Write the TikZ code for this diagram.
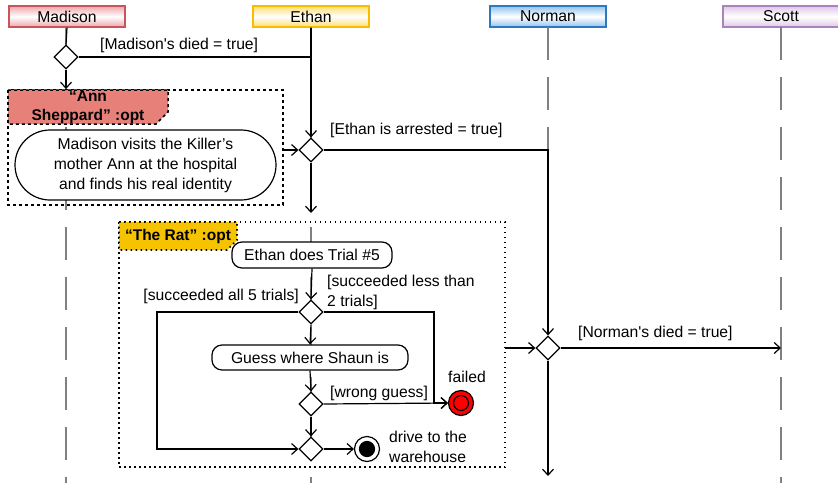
\documentclass[tikz,border=0pt]{standalone}
\usepackage{fontspec}
\setmainfont{Liberation Sans}
\usepackage{xcolor}
\usepackage{tikz}
\usetikzlibrary{arrows.meta,shapes.geometric}

\definecolor{madline}{RGB}{200,85,90}
\definecolor{madfill}{RGB}{238,165,170}
\definecolor{ethline}{RGB}{245,190,0}
\definecolor{ethfill}{RGB}{255,222,110}
\definecolor{norline}{RGB}{45,120,190}
\definecolor{norfill}{RGB}{145,195,238}
\definecolor{scoline}{RGB}{170,130,190}
\definecolor{scofill}{RGB}{222,200,232}
\definecolor{anntab}{RGB}{232,128,122}
\definecolor{rattab}{RGB}{246,195,0}

\tikzset{
  txt/.style={font=\fontsize{15.7}{20}\selectfont},
  actor/.style 2 args={rectangle, draw=#1, line width=1.2pt, top color=#2, bottom color=#2,
    middle color=white, minimum width=116pt, minimum height=21pt, inner sep=0pt, txt},
  lifeline/.style={draw=gray, line width=1.5pt, dash pattern=on 33pt off 17pt},
  flow/.style={line width=1.2pt},
  dec/.style={diamond, draw, fill=white, line width=1.2pt, minimum size=24pt, inner sep=0pt},
  act/.style={rectangle, draw, fill=white, line width=1.2pt, rounded corners=#1, inner sep=0pt,
    align=center, txt},
  final/.style 2 args={circle, draw, fill=#1, line width=1.2pt, minimum size=25pt, inner sep=0pt,
    path picture={\filldraw[fill=#2, draw=black, line width=1.2pt]
      (path picture bounding box.center) circle (7.5pt);}},
  lbl/.style={inner sep=0pt, align=left, txt},
  tabtxt/.style={inner sep=0pt, align=center, font=\fontsize{15.5}{19}\selectfont\bfseries}
}

\begin{document}
\begin{tikzpicture}[x=1pt, y=1pt, >={Straight Barb[length=6pt,width=11pt]}]
\useasboundingbox (0,0) rectangle (838,-483) ;

% heads of the lifelines
\node[actor={madline}{madfill}] (madison) at (67,-16.5) {Madison} ;
\node[actor={ethline}{ethfill}] (ethan) at (311,-16.5) {Ethan} ;
\node[actor={norline}{norfill}] (norman) at (548,-16.5) {Norman} ;
\node[actor={scoline}{scofill}] (scott) at (781,-16.5) {Scott} ;

\coordinate (madend) at (66,-483) ;
\coordinate (ethend) at (311,-483) ;
\coordinate (norjoin) at (548,-150) ;
\coordinate (scoend) at (781,-483) ;
\draw[lifeline] (66,-27) -- (madend) ;
\draw[lifeline] (311,-27) -- (ethend) ;
\draw[lifeline] (548,-27) -- (norjoin) ;
\draw[lifeline] (781,-27) -- (scoend) ;

% opt fragments
\draw[line width=1.5pt, dash pattern=on 3pt off 3pt] (8,-90) rectangle (283,-205) ;
\filldraw[fill=anntab, line width=1.5pt, dash pattern=on 3pt off 3pt]
  (8,-90) -- (168,-90) -- (168,-112) -- (156,-124) -- (8,-124) -- cycle ;
\node[tabtxt] (anntitle) at (88,-107) {“Ann\\Sheppard” :opt} ;

\draw[line width=1.6pt, dash pattern=on 1.5pt off 3.5pt] (119,-222) rectangle (505,-467) ;
\filldraw[fill=rattab, line width=1.6pt, dash pattern=on 1.5pt off 3.5pt]
  (119,-222) -- (237,-222) -- (237,-240) -- (227,-250) -- (119,-250) -- cycle ;
\node[tabtxt] (rattitle) at (178,-236) {“The Rat” :opt} ;

% decisions and actions
\node[dec] (mdec) at (66,-57) {} ;
\node[dec] (edec) at (311,-150) {} ;
\node[dec] (ndec) at (548,-348) {} ;
\node[act=35pt, minimum width=261pt, minimum height=70pt] (visit) at (145.5,-165)
  {Madison visits the Killer’s\\mother Ann at the hospital\\and finds his real identity} ;
\node[act=10pt, minimum width=160pt, minimum height=26pt] (trial) at (312,-255) {Ethan does Trial \#5} ;
\node[dec] (tdec) at (311,-312) {} ;
\node[act=10pt, minimum width=196pt, minimum height=25pt] (guess) at (310,-357.5) {Guess where Shaun is} ;
\node[dec] (gdec) at (311,-404) {} ;
\node[dec] (mrg) at (311,-449) {} ;
\node[final={red}{red}] (failed) at (461,-403) {} ;
\node[final={white}{black}] (drive) at (367,-449) {} ;

% guards
\node[lbl, anchor=west] (ldied) at (100,-45) {[Madison\textquotesingle s died = true]} ;
\node[lbl, anchor=west] (larrest) at (330,-130) {[Ethan is arrested = true]} ;
\node[lbl, anchor=east] (lall) at (299,-296) {[succeeded all 5 trials]} ;
\node[lbl, anchor=west] (lless) at (327,-292) {[succeeded less than\\2 trials]} ;
\node[lbl, anchor=west] (lwrong) at (330,-393) {[wrong guess]} ;
\node[lbl] (lfailed) at (467,-377) {failed} ;
\node[lbl, anchor=west] (ldrive) at (389,-446.5) {drive to the\\warehouse} ;
\node[lbl, anchor=west] (lndied) at (578,-333) {[Norman\textquotesingle s died = true]} ;

% control flow
\coordinate (mjoin) at (311,-57) ;
\coordinate (annin) at (66,-89) ;
\coordinate (annout) at (283,-150) ;
\coordinate (ethout) at (311,-213) ;
\coordinate (allbend) at (157,-449) ;
\coordinate (lessbend) at (434,-403) ;
\coordinate (ratout) at (505,-348) ;
\coordinate (scojoin) at (781,-348) ;
\coordinate (norout) at (548,-476) ;
\draw[flow] (madison.south) -- (mdec.north) ;
\draw[flow,->] (mdec.south) -- (annin) ;
\draw[flow] (mdec.east) -- (mjoin) ;
\draw[flow,->] (ethan.south) -- (edec.north) ;
\draw[flow,->] (annout) -- (edec.west) ;
\draw[flow,->] (edec.east) -- (norjoin) -- (ndec.north) ;
\draw[flow,->] (edec.south) -- (ethout) ;
\draw[flow,->] (trial.south) -- (tdec.north) ;
\draw[flow,->] (tdec.west) -| (allbend) -- (mrg.west) ;
\draw[flow,->] (tdec.east) -| (lessbend) -- (failed.west) ;
\draw[flow,->] (tdec.south) -- (guess.north) ;
\draw[flow,->] (guess.south) -- (gdec.north) ;
\draw[flow,->] (gdec.east) -- (failed.west) ;
\draw[flow,->] (gdec.south) -- (mrg.north) ;
\draw[flow,->] (mrg.east) -- (drive.west) ;
\draw[flow,->] (ratout) -- (ndec.west) ;
\draw[flow,->] (ndec.east) -- (scojoin) ;
\draw[flow,->] (ndec.south) -- (norout) ;
\end{tikzpicture}
\end{document}
